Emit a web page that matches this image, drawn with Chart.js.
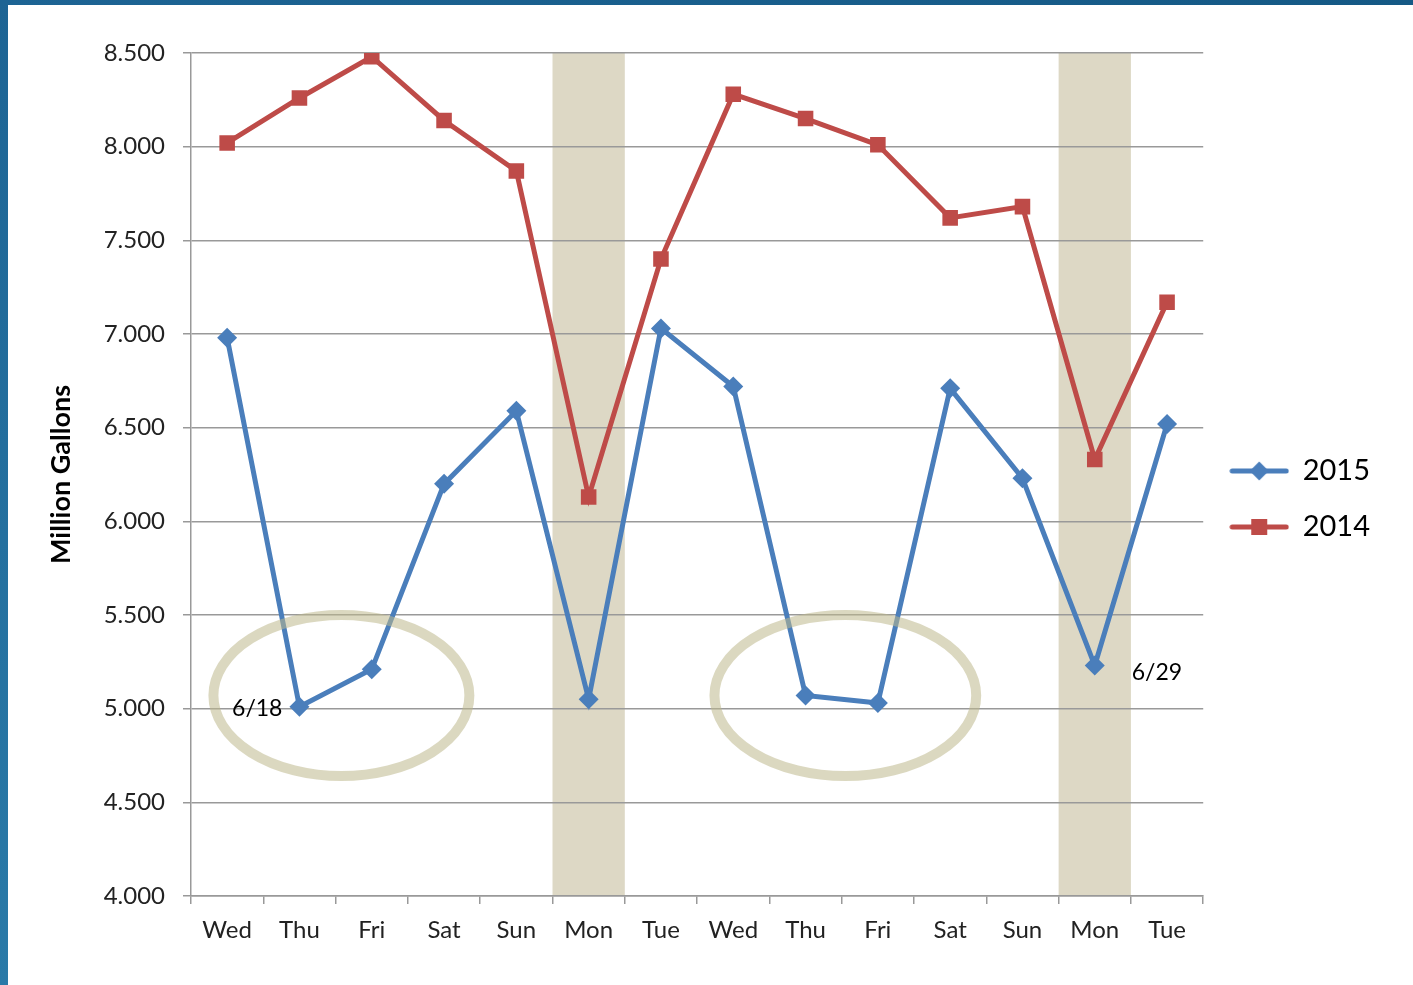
<!DOCTYPE html>
<html>
<head>
<meta charset="utf-8">
<script src="https://cdn.jsdelivr.net/npm/chart.js@4.4.0/dist/chart.umd.min.js"></script>
<style>
  html, body { margin: 0; padding: 0; background: #fff; }
  #wrap { position: relative; width: 1413px; height: 985px; overflow: hidden; }
  #frameTop { position: absolute; left: 0; top: 0; width: 1413px; height: 5px; background: linear-gradient(to right, #1d6494, #155985); }
  #frameLeft { position: absolute; left: 0; top: 0; width: 8px; height: 985px; background: linear-gradient(to bottom, #1d6494, #2a7aa8); }
  canvas { position: absolute; left: 0; top: 0; }
</style>
</head>
<body>
<div id="wrap">
  <canvas id="waterChart" width="1413" height="985"></canvas>
  <div id="frameTop"></div>
  <div id="frameLeft"></div>
</div>
<script>
// categories (days)
var days = ['Wed', 'Thu', 'Fri', 'Sat', 'Sun', 'Mon', 'Tue', 'Wed', 'Thu', 'Fri', 'Sat', 'Sun', 'Mon', 'Tue'];

// million gallons per day
var use2015 = [6.98, 5.01, 5.21, 6.20, 6.59, 5.05, 7.03, 6.72, 5.07, 5.03, 6.71, 6.23, 5.23, 6.52];
var use2014 = [8.02, 8.26, 8.48, 8.14, 7.87, 6.13, 7.40, 8.28, 8.15, 8.01, 7.62, 7.68, 6.33, 7.17];

// y axis
var yMin = 4.0, yMax = 8.5, yStep = 0.5;

// highlighted days (index into days)
var shadedDays = [5, 12];

// point labels: [dataset index, point index, text, side]
var pointNotes = [[0, 1, '6/18', 'left'], [0, 12, '6/29', 'right']];

// circled groups: [center index, center value, half width in days, half height in values]
var circles = [[1.58, 5.07, 1.77, 0.43], [8.55, 5.07, 1.81, 0.43]];

var blue = '#4a7ebb';
var red = '#be4b48';
var font = 'Lato, "Open Sans", sans-serif';

// legend icons: line with marker
function legendIcon(color, shape) {
    var c = document.createElement('canvas');
    c.width = 60; c.height = 22;
    var g = c.getContext('2d');
    g.strokeStyle = color;
    g.lineWidth = 5;
    g.lineCap = 'round';
    g.beginPath();
    g.moveTo(3, 11); g.lineTo(57, 11);
    g.stroke();
    g.fillStyle = color;
    g.beginPath();
    if (shape == 'diamond') {
        g.moveTo(30, 1.5); g.lineTo(39.5, 11); g.lineTo(30, 20.5); g.lineTo(20.5, 11);
    } else {
        g.rect(22, 3, 16, 16);
    }
    g.closePath();
    g.fill();
    return c;
}
var icon2015 = legendIcon(blue, 'diamond');
var icon2014 = legendIcon(red, 'square');

var extras = {
    id: 'extras',
    beforeDraw: function (chart) {
        var ctx = chart.ctx, a = chart.chartArea, x = chart.scales.x;
        ctx.save();
        ctx.fillStyle = '#ddd8c5';
        shadedDays.forEach(function (i) {
            var l = x.getPixelForValue(i - 0.5), r = x.getPixelForValue(i + 0.5);
            ctx.fillRect(l, a.top, r - l, a.bottom - a.top);
        });
        ctx.restore();
    },
    afterDatasetsDraw: function (chart) {
        var ctx = chart.ctx, x = chart.scales.x, y = chart.scales.y;
        ctx.save();
        ctx.strokeStyle = 'rgba(190, 184, 140, 0.55)';
        ctx.lineWidth = 10;
        circles.forEach(function (c) {
            var cx = x.getPixelForValue(c[0]), cy = y.getPixelForValue(c[1]);
            var rx = x.getPixelForValue(c[0] + c[2]) - cx;
            var ry = y.getPixelForValue(c[1] - c[3]) - cy;
            ctx.beginPath();
            ctx.ellipse(cx, cy, rx, ry, 0, 0, Math.PI * 2);
            ctx.stroke();
        });
        ctx.fillStyle = '#000';
        ctx.font = '23px ' + font;
        ctx.textBaseline = 'middle';
        pointNotes.forEach(function (n) {
            var pt = chart.getDatasetMeta(n[0]).data[n[1]];
            if (n[3] == 'left') {
                ctx.textAlign = 'right';
                ctx.fillText(n[2], pt.x - 17, pt.y + 2);
            } else {
                ctx.textAlign = 'left';
                ctx.fillText(n[2], pt.x + 37, pt.y + 7);
            }
        });
        ctx.restore();
    }
};

var ctx = document.getElementById('waterChart').getContext('2d');
var chart = new Chart(ctx, {
    type: 'line',
    data: {
        labels: days,
        datasets: [
            {
                label: '2015',
                data: use2015,
                borderColor: blue,
                backgroundColor: blue,
                borderWidth: 5,
                pointStyle: 'rectRot',
                pointRadius: 10,
                pointBorderWidth: 0,
                tension: 0,
                fill: false
            },
            {
                label: '2014',
                data: use2014,
                borderColor: red,
                backgroundColor: red,
                borderWidth: 5,
                pointStyle: 'rect',
                pointRadius: 11,
                pointBorderWidth: 0,
                tension: 0,
                fill: false
            }
        ]
    },
    options: {
        responsive: false,
        animation: false,
        layout: { padding: { left: 45, top: 53, right: 33, bottom: 40 } },
        plugins: {
            tooltip: { enabled: false },
            legend: {
                position: 'right',
                labels: {
                    usePointStyle: true,
                    pointStyleWidth: 58,
                    padding: 27,
                    color: '#000',
                    font: { family: font, size: 29 },
                    generateLabels: function (chart) {
                        return [
                            { text: '2015', pointStyle: icon2015, fillStyle: blue, strokeStyle: blue, lineWidth: 0, datasetIndex: 0, fontColor: '#000' },
                            { text: '2014', pointStyle: icon2014, fillStyle: red, strokeStyle: red, lineWidth: 0, datasetIndex: 1, fontColor: '#000' }
                        ];
                    }
                }
            }
        },
        scales: {
            x: {
                offset: true,
                afterFit: function (s) { s.height = 49; },
                grid: { offset: true, drawOnChartArea: false, tickLength: 8, color: '#999', lineWidth: 1.5 },
                border: { color: '#999', width: 1.5 },
                ticks: { color: '#222', padding: 12, font: { family: font, size: 24 }, autoSkip: false, maxRotation: 0 }
            },
            y: {
                min: yMin,
                max: yMax,
                afterFit: function (s) { s.width = 146; },
                grid: { tickLength: 8, color: '#999', lineWidth: 1.5 },
                border: { color: '#999', width: 1.5 },
                ticks: {
                    stepSize: yStep,
                    color: '#222',
                    padding: 18,
                    font: { family: font, size: 24 },
                    callback: function (v) { return v.toFixed(3); }
                },
                title: {
                    display: true,
                    text: 'Million Gallons',
                    color: '#000',
                    font: { family: font, size: 27, weight: 'bold' },
                    padding: 0
                }
            }
        }
    },
    plugins: [extras]
});
</script>
</body>
</html>
